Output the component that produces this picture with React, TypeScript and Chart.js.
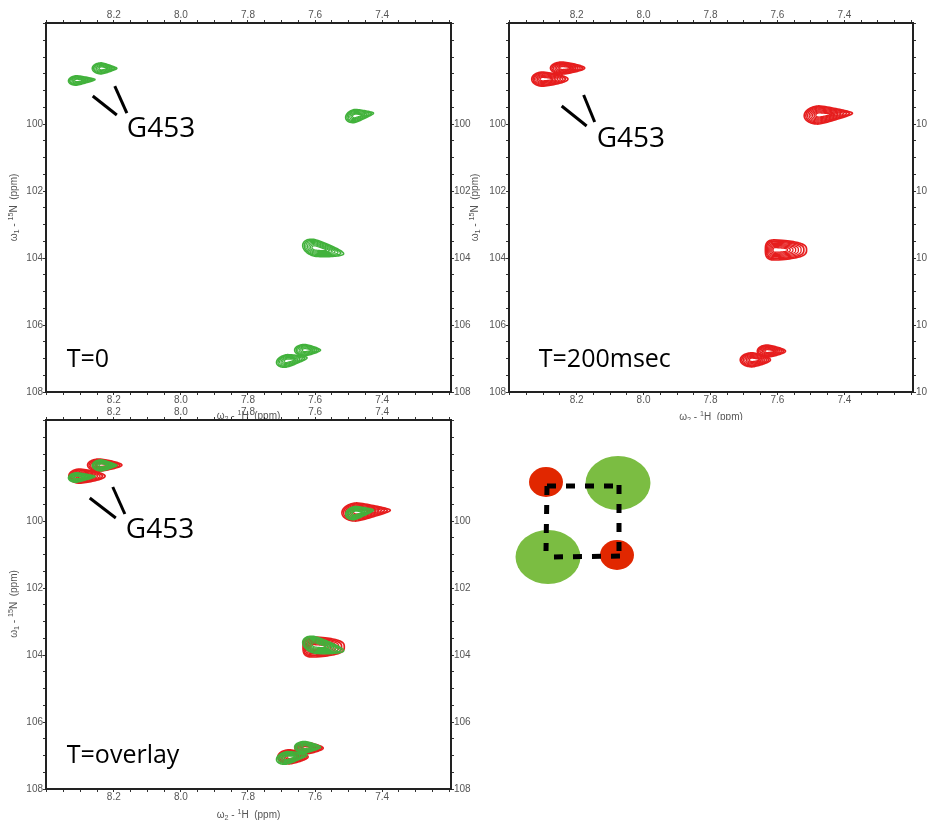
import React, { useEffect, useRef } from 'react';
import { Chart, registerables } from 'chart.js';
Chart.register(...registerables);

// ---------- axis ranges (ppm) ----------
const X_MIN = 7.195;
const X_MAX = 8.402;
const Y_MIN = 96.985;
const Y_MAX = 108;
const X_TICK_LABELS = [8.2, 8.0, 7.8, 7.6, 7.4];
const Y_TICK_LABELS = [100, 102, 104, 106, 108];
const X_MINOR_STEP = 0.05;
const Y_MINOR_STEP = 0.5;

// ---------- peaks (1H ppm, 15N ppm, half widths left/right in 1H ppm, half height in 15N ppm) ----------
const GREEN_PEAKS = [
  { x: 8.310, y: 98.70, wl: 0.025, wr: 0.054, h: 0.14, tilt: -0.05, taper: 0.6, n: 6 },
  { x: 8.236, y: 98.34, wl: 0.028, wr: 0.045, h: 0.165, tilt: 0.0, taper: 0.6, n: 6 },
  { x: 7.481, y: 99.76, wl: 0.028, wr: 0.055, h: 0.195, tilt: -0.15, taper: 0.6, n: 6 },
  { x: 7.600, y: 103.70, wl: 0.037, wr: 0.085, h: 0.25, tilt: 0.2, taper: 0.4, n: 7 },
  { x: 7.684, y: 107.07, wl: 0.031, wr: 0.060, h: 0.185, tilt: -0.15, taper: 0.5, n: 6 },
  { x: 7.630, y: 106.75, wl: 0.031, wr: 0.046, h: 0.17, tilt: 0.0, taper: 0.5, n: 6 },
];
const RED_PEAKS = [
  { x: 8.301, y: 98.66, wl: 0.033, wr: 0.075, h: 0.21, tilt: 0.0, taper: 0.3, n: 7 },
  { x: 8.242, y: 98.33, wl: 0.036, wr: 0.066, h: 0.18, tilt: 0.0, taper: 0.4, n: 7 },
  { x: 7.475, y: 99.73, wl: 0.045, wr: 0.099, h: 0.27, tilt: -0.05, taper: 0.6, n: 8 },
  { x: 7.606, y: 103.76, wl: 0.030, wr: 0.093, h: 0.30, tilt: 0.0, taper: 0.2, n: 8, sq: 3 },
  { x: 7.675, y: 107.04, wl: 0.036, wr: 0.054, h: 0.21, tilt: 0.0, taper: 0.4, n: 7 },
  { x: 7.630, y: 106.78, wl: 0.030, wr: 0.054, h: 0.18, tilt: 0.0, taper: 0.4, n: 7 },
];

// ---------- annotations ----------
const PANEL_LABELS = ['T=0', 'T=200msec', 'T=overlay'];
const PANEL_LABEL_POS = [[8.340, 107.25], [8.313, 107.25], [8.340, 107.22]];
const G453_TEXT = 'G453';
const G453_POS = [[8.161, 100.388], [8.140, 100.687], [8.164, 100.507]];
const G453_LINES = [
  [[[8.2627, 99.164], [8.191, 99.731]], [[8.197, 98.866], [8.161, 99.672]]],
  [[[8.2446, 99.463], [8.170, 100.06]], [[8.179, 99.134], [8.146, 99.94]]],
  [[[8.2716, 99.313], [8.194, 99.910]], [[8.203, 98.985], [8.167, 99.791]]],
];
const X_TITLE = [{ t: 'ω' }, { t: '2', sub: true }, { t: ' - ' }, { t: '1', sup: true }, { t: 'H  (ppm)' }];
const Y_TITLE = [{ t: 'ω' }, { t: '1', sub: true }, { t: ' - ' }, { t: '15', sup: true }, { t: 'N  (ppm)' }];

// ---------- diagram ----------
const DIAGRAM_NODES = [
  { x: -0.014, y: 1.057, rx: 0.236, ry: 0.214, kind: 'red' },
  { x: 0.986, y: 1.043, rx: 0.451, ry: 0.386, kind: 'green' },
  { x: 0.014, y: -0.014, rx: 0.451, ry: 0.386, kind: 'green' },
  { x: 0.972, y: 0.014, rx: 0.236, ry: 0.214, kind: 'red' },
];
const DIAGRAM_EDGES = [
  [[0, 1], [-0.014, 0.071]],
  [[0, 1], [1.014, 1]],
  [[1, 1.014], [1, 0.014]],
  [[0.097, -0.014], [1.042, 0]],
];

const GREEN = '#42b23c';
const RED = '#e61e1e';
const DIAG_GREEN = '#7bbd42';
const DIAG_RED = '#e12700';
const TICK_COLOR = '#555';
const FONT_SANS = '"Liberation Sans", Arial, sans-serif';
const FONT_TEXT = '"Open Sans", "Liberation Sans", sans-serif';

function minorTicks(min, max, step) {
  const out = [];
  const start = Math.ceil(min / step - 1e-9);
  for (let k = start; k * step <= max + 1e-9; k++) out.push(Math.round(k * step * 1000) / 1000);
  return out;
}

function axis(position, kind, size) {
  const isX = kind === 'x';
  const labels = isX ? X_TICK_LABELS : Y_TICK_LABELS;
  return {
    type: 'linear',
    position,
    reverse: true,
    min: isX ? X_MIN : Y_MIN,
    max: isX ? X_MAX : Y_MAX,
    afterBuildTicks: (s) => {
      s.ticks = minorTicks(isX ? X_MIN : Y_MIN, isX ? X_MAX : Y_MAX, isX ? X_MINOR_STEP : Y_MINOR_STEP).map((v) => ({ value: v }));
    },
    afterFit: (s) => {
      if (isX) s.height = size;
      else s.width = size;
    },
    ticks: {
      autoSkip: false,
      maxRotation: 0,
      minRotation: 0,
      padding: 0,
      color: TICK_COLOR,
      font: { family: FONT_SANS, size: 10, lineHeight: 1 },
      callback: (v) => {
        const m = labels.find((l) => Math.abs(l - v) < 1e-6);
        if (m === undefined) return '';
        return isX ? m.toFixed(1) : String(m);
      },
    },
    grid: { drawOnChartArea: false, drawTicks: true, tickLength: 3, tickColor: '#333', tickWidth: 1 },
    border: { display: true, color: '#222', width: 2 },
  };
}

function drawPeak(ctx, xs, ys, p, color, lw) {
  const cx = xs.getPixelForValue(p.x);
  const cy = ys.getPixelForValue(p.y);
  const aL = Math.abs(xs.getPixelForValue(p.x + p.wl) - cx);
  const aR = Math.abs(xs.getPixelForValue(p.x - p.wr) - cx);
  const b = Math.abs(ys.getPixelForValue(p.y + p.h) - cy);
  const sq = p.sq || 2;
  ctx.strokeStyle = color;
  ctx.lineJoin = 'round';
  for (let k = 0; k < p.n; k++) {
    const f = k / p.n;
    const s = 1 - f * 0.88;      // left side / height shrink
    const sR = 1 - f * 0.7;      // inner contours stay elongated toward the tail
    ctx.lineWidth = k < 2 ? lw + 0.4 : lw;
    ctx.beginPath();
    const N = 90;
    for (let i = 0; i <= N; i++) {
      const t = (i / N) * Math.PI * 2;
      let c = Math.cos(t);
      let sn = Math.sin(t);
      c = Math.sign(c) * Math.pow(Math.abs(c), 2 / sq);
      sn = Math.sign(sn) * Math.pow(Math.abs(sn), 2 / sq);
      const dx = c > 0 ? aR * sR * c : aL * s * c;
      const taper = c > 0 ? 1 - p.taper * c : 1;
      const X = cx + dx;
      const Y = cy + b * s * sn * taper + p.tilt * dx;
      if (i === 0) ctx.moveTo(X, Y);
      else ctx.lineTo(X, Y);
    }
    ctx.closePath();
    ctx.stroke();
  }
}

function contourPlugin(sets) {
  return {
    id: 'contours',
    beforeDatasetsDraw(chart) {
      const { ctx, chartArea } = chart;
      const xs = chart.scales.x;
      const ys = chart.scales.y;
      ctx.save();
      ctx.beginPath();
      ctx.rect(chartArea.left, chartArea.top, chartArea.right - chartArea.left, chartArea.bottom - chartArea.top);
      ctx.clip();
      sets.forEach((set) => set.peaks.forEach((p) => drawPeak(ctx, xs, ys, p, set.color, set.width)));
      ctx.restore();
    },
  };
}

function drawRich(ctx, parts, x, y, size) {
  const segs = parts.map((p) => ({ ...p, size: p.sub || p.sup ? size * 0.72 : size }));
  let total = 0;
  segs.forEach((s) => {
    ctx.font = `${s.size}px ${FONT_SANS}`;
    s.w = ctx.measureText(s.t).width;
    total += s.w;
  });
  let cx = x - total / 2;
  ctx.textAlign = 'left';
  ctx.textBaseline = 'middle';
  segs.forEach((s) => {
    ctx.font = `${s.size}px ${FONT_SANS}`;
    const dy = s.sup ? -size * 0.32 : s.sub ? size * 0.3 : 0;
    ctx.fillText(s.t, cx, y + dy);
    cx += s.w;
  });
}

function textPlugin(cfg) {
  return {
    id: 'texts',
    afterDraw(chart) {
      const { ctx } = chart;
      const xs = chart.scales.x;
      const ys = chart.scales.y;
      ctx.save();
      ctx.fillStyle = '#000';
      ctx.textAlign = 'left';
      ctx.textBaseline = 'alphabetic';
      ctx.font = `28px ${FONT_TEXT}`;
      const [gx, gy] = G453_POS[cfg.idx];
      ctx.fillText(G453_TEXT, xs.getPixelForValue(gx), ys.getPixelForValue(gy));
      ctx.font = `25px ${FONT_TEXT}`;
      const [lx, ly] = PANEL_LABEL_POS[cfg.idx];
      ctx.fillText(PANEL_LABELS[cfg.idx], xs.getPixelForValue(lx), ys.getPixelForValue(ly));
      ctx.fillStyle = TICK_COLOR;
      drawRich(ctx, X_TITLE, cfg.xTitle[0], cfg.xTitle[1], 10);
      ctx.translate(cfg.yTitle[0], cfg.yTitle[1]);
      ctx.rotate(-Math.PI / 2);
      drawRich(ctx, Y_TITLE, 0, 0, 10);
      ctx.restore();
    },
  };
}

const PANELS = [
  { idx: 0, left: 0, top: 0, w: 475, h: 419, axL: 46, axR: 24, axT: 23, axB: 27,
    xTitle: [248.5, 416], yTitle: [14, 207.5], sets: [{ peaks: GREEN_PEAKS, color: GREEN, width: 1.2 }] },
  { idx: 1, left: 460, top: 0, w: 467, h: 420, axL: 49, axR: 14, axT: 23, axB: 28,
    xTitle: [251, 417], yTitle: [15, 207.5], sets: [{ peaks: RED_PEAKS, color: RED, width: 1.3 }] },
  { idx: 2, left: 0, top: 404, w: 475, h: 416, axL: 46, axR: 24, axT: 16, axB: 31,
    xTitle: [248.5, 411], yTitle: [14, 200],
    sets: [{ peaks: RED_PEAKS, color: RED, width: 1.3 }, { peaks: GREEN_PEAKS, color: GREEN, width: 1.2 }] },
];

function NmrPanel({ cfg }) {
  const ref = useRef(null);
  useEffect(() => {
    const datasets = G453_LINES[cfg.idx].map((seg) => ({
      data: seg.map(([x, y]) => ({ x, y })),
      showLine: true,
      borderColor: '#000',
      borderWidth: 3,
      pointRadius: 0,
      pointHoverRadius: 0,
      fill: false,
    }));
    const chart = new Chart(ref.current, {
      type: 'scatter',
      data: { datasets },
      options: {
        responsive: false,
        animation: false,
        devicePixelRatio: 1,
        events: [],
        layout: { padding: 0 },
        plugins: { legend: { display: false }, tooltip: { enabled: false }, title: { display: false } },
        scales: {
          x: axis('bottom', 'x', cfg.axB),
          x2: axis('top', 'x', cfg.axT),
          y: axis('left', 'y', cfg.axL),
          y2: axis('right', 'y', cfg.axR),
        },
      },
      plugins: [contourPlugin(cfg.sets), textPlugin(cfg)],
    });
    return () => chart.destroy();
  }, []);
  return (
    <canvas
      ref={ref}
      width={cfg.w}
      height={cfg.h}
      style={{ position: 'absolute', left: cfg.left, top: cfg.top, width: cfg.w, height: cfg.h }}
    />
  );
}

const nodePlugin = {
  id: 'nodes',
  beforeDatasetsDraw(chart) {
    const { ctx } = chart;
    const xs = chart.scales.x;
    const ys = chart.scales.y;
    ctx.save();
    DIAGRAM_NODES.forEach((n) => {
      const cx = xs.getPixelForValue(n.x);
      const cy = ys.getPixelForValue(n.y);
      const rx = Math.abs(xs.getPixelForValue(n.x + n.rx) - cx);
      const ry = Math.abs(ys.getPixelForValue(n.y + n.ry) - cy);
      ctx.fillStyle = n.kind === 'red' ? DIAG_RED : DIAG_GREEN;
      ctx.beginPath();
      ctx.ellipse(cx, cy, rx, ry, 0, 0, Math.PI * 2);
      ctx.fill();
    });
    ctx.restore();
  },
};

function Diagram() {
  const ref = useRef(null);
  useEffect(() => {
    const datasets = DIAGRAM_EDGES.map((seg) => ({
      data: seg.map(([x, y]) => ({ x, y })),
      showLine: true,
      borderColor: '#000',
      borderWidth: 5,
      borderDash: [9, 10],
      borderCapStyle: 'butt',
      pointRadius: 0,
      pointHoverRadius: 0,
      fill: false,
    }));
    const chart = new Chart(ref.current, {
      type: 'scatter',
      data: { datasets },
      options: {
        responsive: false,
        animation: false,
        devicePixelRatio: 1,
        events: [],
        layout: { padding: 0 },
        plugins: { legend: { display: false }, tooltip: { enabled: false } },
        scales: {
          x: { type: 'linear', display: false, min: -0.9306, max: 1.8472 },
          y: { type: 'linear', display: false, min: -0.6286, max: 1.8 },
        },
      },
      plugins: [nodePlugin],
    });
    return () => chart.destroy();
  }, []);
  return (
    <canvas
      ref={ref}
      width={200}
      height={170}
      style={{ position: 'absolute', left: 480, top: 430, width: 200, height: 170 }}
    />
  );
}

export default function App() {
  return (
    <div style={{ position: 'absolute', left: 0, top: 0, width: 927, height: 820, background: '#fff', overflow: 'hidden' }}>
      {PANELS.map((p) => (
        <NmrPanel key={p.idx} cfg={p} />
      ))}
      <Diagram />
    </div>
  );
}
